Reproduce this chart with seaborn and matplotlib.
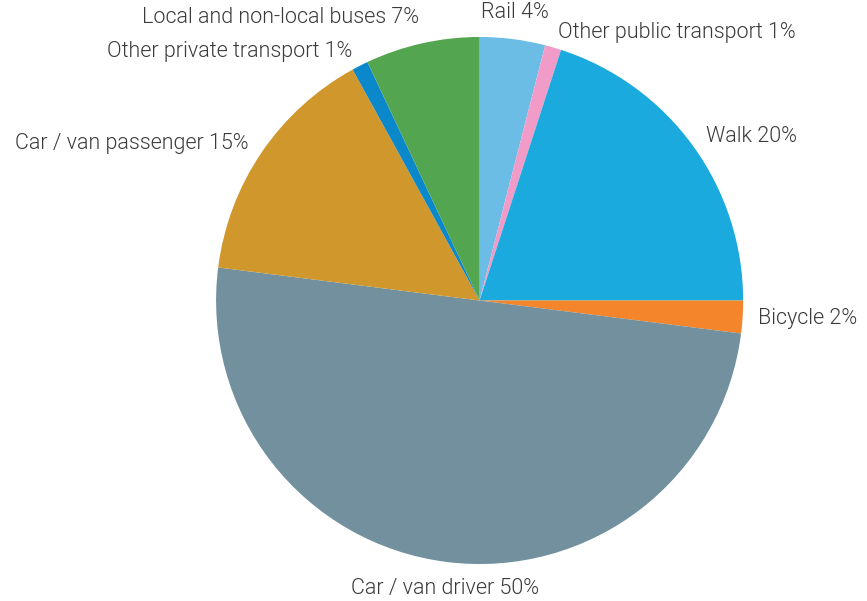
import numpy as np
import matplotlib
matplotlib.use("Agg")
import matplotlib.pyplot as plt
import seaborn as sns

# --- Data ---
modes = [
    "Rail",
    "Other public transport",
    "Walk",
    "Bicycle",
    "Car / van driver",
    "Car / van passenger",
    "Other private transport",
    "Local and non-local buses",
]
shares = [4, 1, 20, 2, 50, 15, 1, 7]
colors = ["#6bbde6", "#f19cc8", "#1aaadd", "#f5852a",
          "#72909d", "#d0972c", "#0b88c9", "#53a54f"]

sns.set_theme(style="white")
plt.rcParams["font.family"] = ["Roboto", "DejaVu Sans"]

fig, ax = plt.subplots(figsize=(8.67, 6.01), dpi=100)
fig.subplots_adjust(left=0.0, right=1.0, top=1.0, bottom=0.0)

labels = [f"{m} {s}%" for m, s in zip(modes, shares)]
wedges, texts = ax.pie(
    shares,
    labels=labels,
    colors=colors,
    startangle=90,
    counterclock=False,
    labeldistance=1.06,
    wedgeprops={"linewidth": 0},
    textprops={"fontsize": 15.5, "color": "#3a3a3a", "fontweight": 300},
)

# alignment of labels depends on where the wedge points
for w, t in zip(wedges, texts):
    ang = np.deg2rad((w.theta1 + w.theta2) / 2)
    dx, dy = np.cos(ang), np.sin(ang)
    if abs(dx) < 0.15:
        t.set_ha("center")
    else:
        t.set_ha("left" if dx > 0 else "right")
    if dy > 0.97:
        t.set_va("bottom")
    elif dy < -0.97:
        t.set_va("top")
    else:
        t.set_va("center")

ax.set_aspect("equal")
ax.set_xlim(-1.82, 1.47)
ax.set_ylim(-1.14, 1.14)

fig.savefig("out.png", dpi=100)
